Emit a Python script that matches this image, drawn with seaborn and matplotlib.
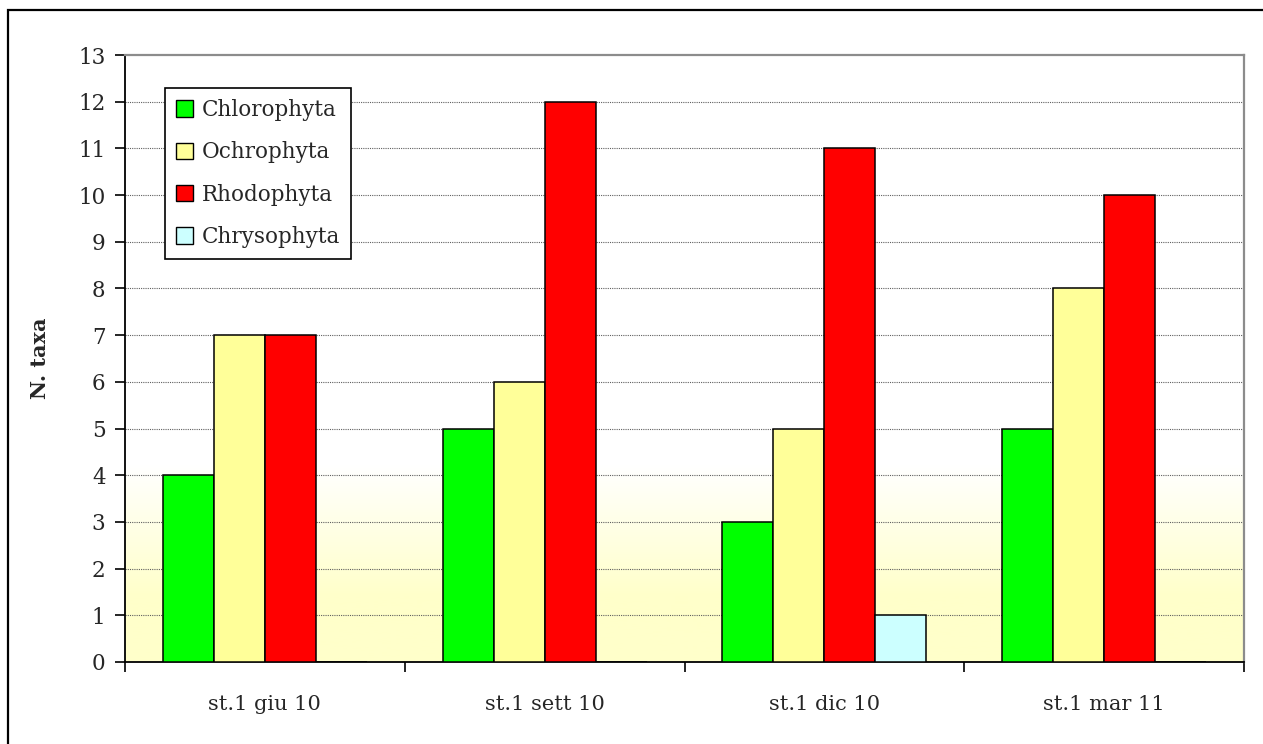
import numpy as np
import pandas as pd
import matplotlib
matplotlib.use("Agg")
import matplotlib.pyplot as plt
from matplotlib.patches import Rectangle
from matplotlib.colors import LinearSegmentedColormap
import seaborn as sns

# Sampling campaigns and number of taxa per phylum
campaigns = ["st.1 giu 10", "st.1 sett 10", "st.1 dic 10", "st.1 mar 11"]
phyla = ["Chlorophyta", "Ochrophyta", "Rhodophyta", "Chrysophyta"]
chlorophyta = [4, 5, 3, 5]
ochrophyta = [7, 6, 5, 8]
rhodophyta = [7, 12, 11, 10]
chrysophyta = [0, 0, 1, 0]
y_ticks = list(range(0, 14))

palette = {"Chlorophyta": "#00FF00", "Ochrophyta": "#FFFF99",
           "Rhodophyta": "#FF0000", "Chrysophyta": "#CCFFFF"}

counts = [chlorophyta, ochrophyta, rhodophyta, chrysophyta]
rows = []
for phylum, vals in zip(phyla, counts):
    for camp, v in zip(campaigns, vals):
        rows.append({"campaign": camp, "phylum": phylum, "taxa": v})
df = pd.DataFrame(rows)

sns.set_theme(style="white")
plt.rcParams["font.family"] = ["DejaVu Serif"]

fig = plt.figure(figsize=(12.63, 7.44), dpi=100)
ax = fig.add_axes([125 / 1263, 82 / 744, 1119 / 1263, 607 / 744])

# Plot-area background: white in the upper part, fading to pale yellow near the baseline
cmap = LinearSegmentedColormap.from_list("bg", ["#FFFFCA", "#FFFFFF"])
yy = np.linspace(0, 13, 600)
grad = np.clip((yy - 1.4) / (4.2 - 1.4), 0, 1).reshape(-1, 1)
ax.imshow(grad, cmap=cmap, aspect="auto", origin="lower",
          extent=(-0.5, 3.5, 0, 13), zorder=0, vmin=0, vmax=1)

sns.barplot(data=df, x="campaign", y="taxa", hue="phylum", hue_order=phyla,
            order=campaigns, palette=palette, width=0.73, dodge=True,
            edgecolor="black", linewidth=1.1, saturation=1, ax=ax, zorder=3,
            err_kws={"linewidth": 0})

ax.set_xlim(-0.5, 3.5)
ax.set_ylim(0, 13)
ax.set_yticks(y_ticks)
ax.set_yticklabels([str(t) for t in y_ticks], fontsize=15.5)
for t in y_ticks[1:-1]:
    ax.axhline(t, color="#5f5f5f", lw=0.8, ls=(0, (1, 1)), zorder=1)

# Category boundaries as major ticks, labels centred on minor ticks
ax.set_xticks([-0.5, 0.5, 1.5, 2.5, 3.5])
ax.set_xticklabels([])
ax.set_xticks(range(len(campaigns)), minor=True)
ax.set_xticklabels(campaigns, minor=True, fontsize=15)
ax.tick_params(axis="x", which="major", direction="out", length=7, width=1.2,
               color="black", bottom=True)
ax.tick_params(axis="x", which="minor", length=0, pad=24, bottom=True)
ax.tick_params(axis="y", direction="out", length=7, width=1.2, color="black",
               pad=7, left=True)

ax.set_xlabel("")
ax.set_ylabel("N. taxa", fontsize=15, fontweight="bold", labelpad=20)

for side in ["left", "bottom"]:
    ax.spines[side].set_color("black")
    ax.spines[side].set_linewidth(1.3)
for side in ["top", "right"]:
    ax.spines[side].set_color("#8c8c8c")
    ax.spines[side].set_linewidth(1.6)

handles, labels = ax.get_legend_handles_labels()
leg = ax.legend(handles, labels, loc="upper left",
                bbox_to_anchor=(40 / 1119, 1 - 33 / 607), fontsize=15.5,
                frameon=True, fancybox=False, edgecolor="black",
                framealpha=1, handlelength=0.8, handleheight=0.8,
                handletextpad=0.4, labelspacing=0.95, borderpad=0.5,
                borderaxespad=0)
leg.get_frame().set_linewidth(1.2)
for h in leg.legend_handles:
    h.set_edgecolor("black")
    h.set_linewidth(1.0)

# Outer frame around the whole chart
fig.patches.append(Rectangle((8 / 1263, -0.05), 1.1, 0.05 + 1 - 10 / 744,
                             transform=fig.transFigure, fill=False,
                             edgecolor="black", linewidth=1.6, zorder=10))

fig.savefig("out.png", dpi=100)
